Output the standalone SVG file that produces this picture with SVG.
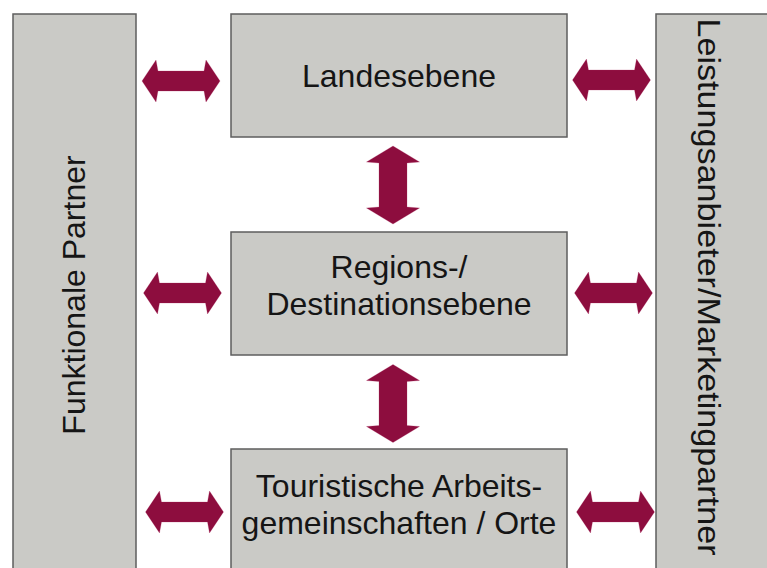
<svg xmlns="http://www.w3.org/2000/svg" xmlns:xlink="http://www.w3.org/1999/xlink" width="767" height="568" viewBox="0 0 767 568">
<style>
.box{fill:#cacac6;stroke:#5e5e5e;stroke-width:1.5}
.lbl{font-family:"Liberation Sans",Arial,sans-serif;font-size:32px;fill:#151515;text-anchor:middle}
.side{font-family:"Liberation Sans",Arial,sans-serif;fill:#151515;text-anchor:middle}
.arr{fill:#8d0d3e;stroke:#b03060;stroke-width:0.6;stroke-opacity:0.4}
</style>
<defs>
<path id="harr" d="M-39,0 L-25,-21 L-23,-10 L23,-10 L25,-21 L39,0 L25,21 L23,10 L-23,10 L-25,21 Z"/>
<path id="varr" d="M0,-39 L26.5,-23 L14,-22 L14,22 L26.5,23 L0,39 L-26.5,23 L-14,22 L-14,-22 L-26.5,-23 Z"/>
</defs>
<rect width="767" height="568" fill="#ffffff"/>
<g id="funktionale-partner">
<rect class="box" x="13" y="14" width="123" height="570"/>
<text class="side" font-size="32" transform="translate(85,295) rotate(-90)">Funktionale Partner</text>
</g>
<g id="leistungsanbieter">
<rect class="box" x="656" y="14" width="130" height="570"/>
<text class="side" font-size="32" transform="translate(698,287) rotate(90)" textLength="537" lengthAdjust="spacingAndGlyphs">Leistungsanbieter/Marketingpartner</text>
</g>
<g id="landesebene">
<rect class="box" x="231" y="14" width="336" height="123"/>
<text class="lbl" x="399" y="87">Landesebene</text>
</g>
<g id="regionsebene">
<rect class="box" x="231" y="232" width="336" height="123"/>
<text class="lbl" x="399" y="278">Regions-/</text>
<text class="lbl" x="399" y="315">Destinationsebene</text>
</g>
<g id="orte">
<rect class="box" x="231" y="449" width="336" height="130"/>
<text class="lbl" x="399" y="497">Touristische Arbeits-</text>
<text class="lbl" x="399" y="534">gemeinschaften / Orte</text>
</g>
<g id="connectors" class="arr">
<use xlink:href="#harr" transform="translate(181,81)"/>
<use xlink:href="#harr" transform="translate(611.5,80)"/>
<use xlink:href="#harr" transform="translate(182.5,293)"/>
<use xlink:href="#harr" transform="translate(613.5,293)"/>
<use xlink:href="#harr" transform="translate(184.5,512)"/>
<use xlink:href="#harr" transform="translate(615.5,512)"/>
<use xlink:href="#varr" transform="translate(393,185)"/>
<use xlink:href="#varr" transform="translate(393,403.5)"/>
</g>
</svg>
